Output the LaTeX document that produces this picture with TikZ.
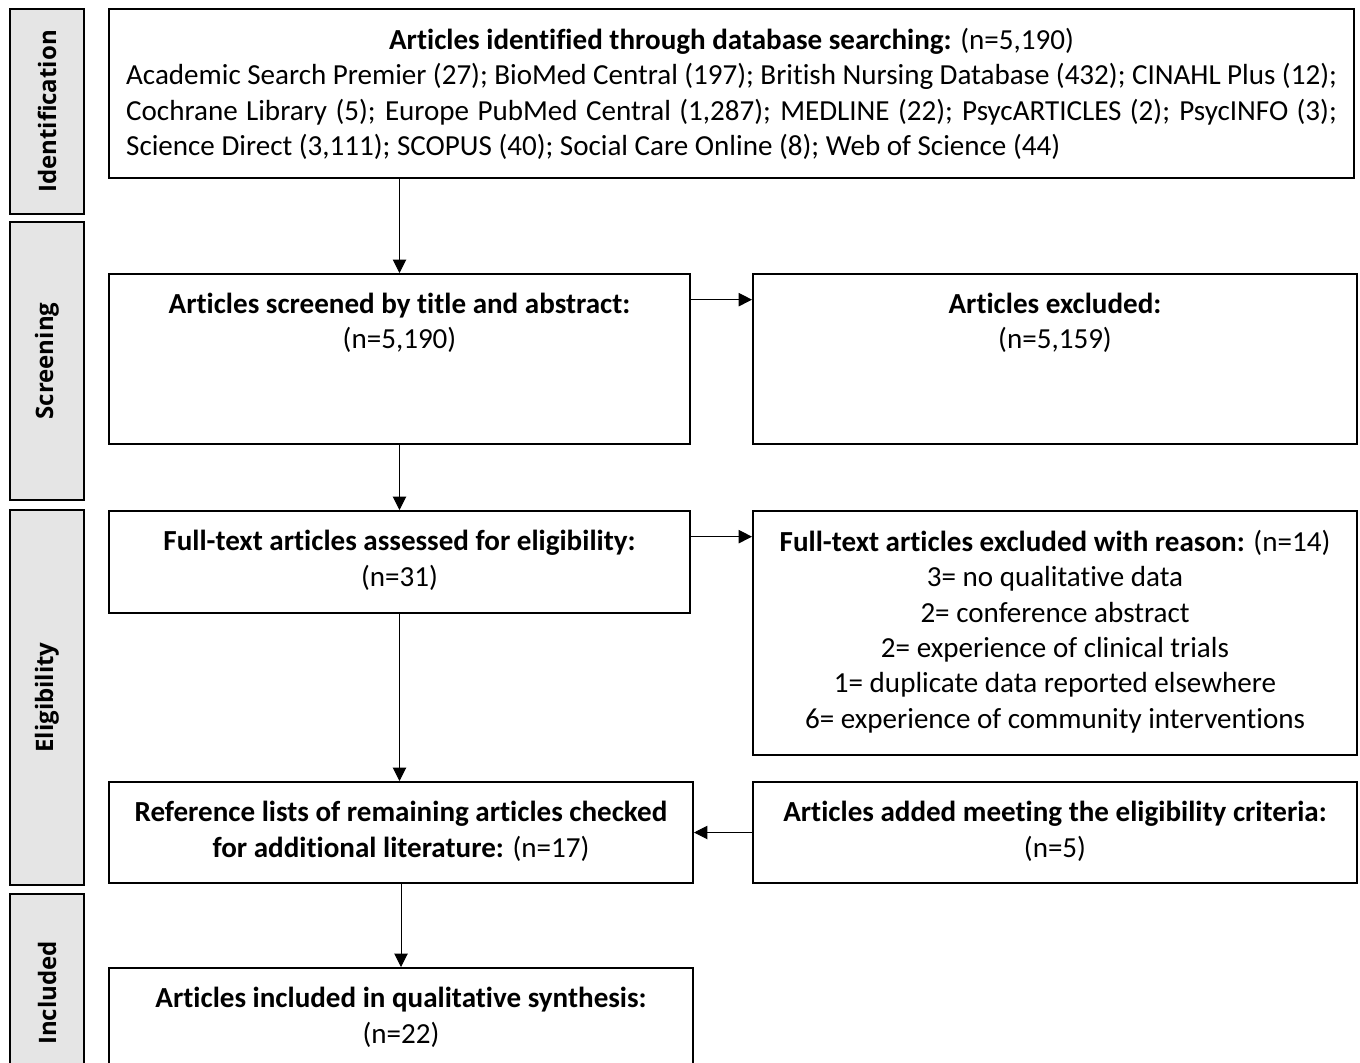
\documentclass[tikz,border=0pt]{standalone}
\usepackage{fontspec}
\setmainfont{Carlito}[Ligatures=NoCommon]
\newfontfamily\stagefont{Open Sans}
\usetikzlibrary{positioning,arrows.meta}
\newcommand*{\pxl}{0.75pt}
\newcommand*{\linew}{908pt}
\tikzset{%
  frame/.style={draw, line width=1.5pt, anchor=north west, inner sep=0pt},% box outline
  stage/.style={frame, fill=gray!20},% grey stage bar at the left
  stagetext/.style={rotate=90, font=\stagefont\bfseries\fontsize{18}{20}\selectfont},
  boxtext/.style={anchor=north, align=center, inner sep=0pt,
    font=\fontsize{21.8}{26.5}\selectfont},
  flow/.style={line width=0.75pt, -{Triangle[length=10pt,width=10pt]}}% flow arrows
}

\begin{document}
\begin{tikzpicture}[x=0.75pt, y=-0.75pt]
\useasboundingbox (0,0) rectangle (1360,1063);
\clip (0,0) rectangle (1360,1063);

% stage bars
\node[stage, minimum width=74*\pxl, minimum height=205*\pxl] (ident) at (9,8) {};
\node[stage, minimum width=74*\pxl, minimum height=278*\pxl] (screen) at (9,221) {};
\node[stage, minimum width=74*\pxl, minimum height=375*\pxl] (elig) at (9,509) {};
\node[stage, minimum width=74*\pxl, minimum height=182*\pxl] (incd) at (9,893) {};
\node[stagetext] (identlab) at (ident.center) {Identification};
\node[stagetext] (screenlab) at (screen.center) {Screening};
\node[stagetext] (eliglab) at (elig.center) {Eligibility};
\node[stagetext] (incdlab) at ([yshift=-6pt]incd.center) {Included};

% boxes
\node[frame, minimum width=1245*\pxl, minimum height=169*\pxl] (found) at (108,8) {};
\node[frame, minimum width=581*\pxl, minimum height=170*\pxl] (scrL) at (108,273) {};
\node[frame, minimum width=604*\pxl, minimum height=170*\pxl] (scrR) at (752,273) {};
\node[frame, minimum width=581*\pxl, minimum height=102*\pxl] (eliL) at (108,510) {};
\node[frame, minimum width=604*\pxl, minimum height=244*\pxl] (eliR) at (752,510) {};
\node[frame, minimum width=584*\pxl, minimum height=101*\pxl] (refL) at (108,781) {};
\node[frame, minimum width=604*\pxl, minimum height=101*\pxl] (refR) at (752,781) {};
\node[frame, minimum width=584*\pxl, minimum height=120*\pxl] (incl) at (108,967) {};

% texts
\node[boxtext] (foundtext) at ([yshift=-15pt]found.north) {%
  \textbf{Articles identified through database searching:} (n=5,190)\\
  \makebox[\linew][s]{Academic Search Premier (27); BioMed Central (197); British Nursing Database (432); CINAHL Plus (12);}\\
  \makebox[\linew][s]{Cochrane Library (5); Europe PubMed Central (1,287); MEDLINE (22); PsycARTICLES (2); PsycINFO (3);}\\
  \makebox[\linew][l]{Science Direct (3,111); SCOPUS (40); Social Care Online (8); Web of Science (44)}};
\node[boxtext] (scrLtext) at ([yshift=-15pt]scrL.north) {\textbf{Articles screened by title and abstract:}\\(n=5,190)};
\node[boxtext] (scrRtext) at ([yshift=-15pt]scrR.north) {\textbf{Articles excluded:}\\(n=5,159)};
\node[boxtext] (eliLtext) at ([yshift=-15pt]eliL.north) {\textbf{Full-text articles assessed for eligibility:}\\(n=31)};
\node[boxtext] (eliRtext) at ([yshift=-15pt]eliR.north) {%
  \textbf{Full-text articles excluded with reason:} (n=14)\\
  3= no qualitative data\\
  2= conference abstract\\
  2= experience of clinical trials\\
  1= duplicate data reported elsewhere\\
  6= experience of community interventions};
\node[boxtext] (refLtext) at ([yshift=-15pt]refL.north) {\textbf{Reference lists of remaining articles checked}\\\textbf{for additional literature:} (n=17)};
\node[boxtext] (refRtext) at ([yshift=-15pt]refR.north) {\textbf{Articles added meeting the eligibility criteria:}\\(n=5)};
\node[boxtext] (incltext) at ([yshift=-15pt]incl.north) {\textbf{Articles included in qualitative synthesis:}\\(n=22)};

% arrows
\draw[flow] (found.south -| scrL.north) -- (scrL.north);
\draw[flow] (scrL.south) -- (eliL.north);
\draw[flow] (eliL.south) -- (eliL.south |- refL.north);
\draw[flow] (refL.south) -- (refL.south |- incl.north);
\draw[flow] ([yshift=-20pt]scrL.north east) -- ([yshift=-20pt]scrR.north west);
\draw[flow] ([yshift=-20pt]eliL.north east) -- ([yshift=-20pt]eliR.north west);
\draw[flow] (refR.west) -- (refL.east);

\end{tikzpicture}
\end{document}
